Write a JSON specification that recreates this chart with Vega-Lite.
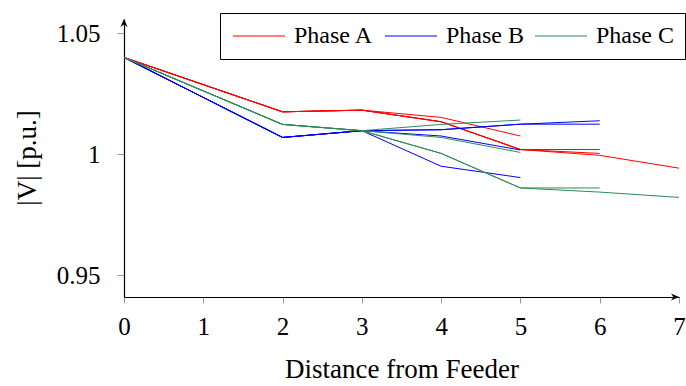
{
  "$schema": "https://vega.github.io/schema/vega-lite/v6.json",
  "width": 555,
  "height": 278,
  "autosize": {"type": "none"},
  "padding": {"left": 124, "top": 19, "right": 7, "bottom": 89},
  "background": "white",
  "config": {
    "view": {"stroke": null},
    "font": "Liberation Serif",
    "axis": {"labelFont": "Liberation Serif", "titleFont": "Liberation Serif", "labelColor": "black", "titleColor": "black", "titleFontWeight": "normal", "grid": false, "domainColor": "black", "domainWidth": 1.2, "tickColor": "#9a9a9a", "tickWidth": 1},
    "legend": {"labelFont": "Liberation Serif", "labelColor": "black"}
  },
  "data": {
    "values": [
      {"phase": "Phase A", "path": "A1", "dist": 0, "v": 1.04},
      {"phase": "Phase A", "path": "A1", "dist": 2, "v": 1.0175},
      {"phase": "Phase A", "path": "A1", "dist": 3, "v": 1.0182},
      {"phase": "Phase A", "path": "A1", "dist": 4, "v": 1.0152},
      {"phase": "Phase A", "path": "A1", "dist": 5, "v": 1.0075},
      {"phase": "Phase A", "path": "A2", "dist": 0, "v": 1.04},
      {"phase": "Phase A", "path": "A2", "dist": 2, "v": 1.0175},
      {"phase": "Phase A", "path": "A2", "dist": 3, "v": 1.0182},
      {"phase": "Phase A", "path": "A2", "dist": 4, "v": 1.0134},
      {"phase": "Phase A", "path": "A2", "dist": 5, "v": 1.0019},
      {"phase": "Phase A", "path": "A2", "dist": 6, "v": 1.0019},
      {"phase": "Phase A", "path": "A3", "dist": 0, "v": 1.04},
      {"phase": "Phase A", "path": "A3", "dist": 2, "v": 1.0175},
      {"phase": "Phase A", "path": "A3", "dist": 3, "v": 1.0182},
      {"phase": "Phase A", "path": "A3", "dist": 4, "v": 1.0134},
      {"phase": "Phase A", "path": "A3", "dist": 5, "v": 1.0019},
      {"phase": "Phase A", "path": "A3", "dist": 6, "v": 1.0003},
      {"phase": "Phase A", "path": "A4", "dist": 0, "v": 1.04},
      {"phase": "Phase A", "path": "A4", "dist": 2, "v": 1.0175},
      {"phase": "Phase A", "path": "A4", "dist": 3, "v": 1.0182},
      {"phase": "Phase A", "path": "A4", "dist": 4, "v": 1.0134},
      {"phase": "Phase A", "path": "A4", "dist": 5, "v": 1.0019},
      {"phase": "Phase A", "path": "A4", "dist": 6, "v": 0.9995},
      {"phase": "Phase A", "path": "A4", "dist": 7, "v": 0.9942},
      {"phase": "Phase B", "path": "B1", "dist": 0, "v": 1.04},
      {"phase": "Phase B", "path": "B1", "dist": 2, "v": 1.0069},
      {"phase": "Phase B", "path": "B1", "dist": 3, "v": 1.0097},
      {"phase": "Phase B", "path": "B1", "dist": 4, "v": 1.0101},
      {"phase": "Phase B", "path": "B1", "dist": 5, "v": 1.0124},
      {"phase": "Phase B", "path": "B1", "dist": 6, "v": 1.0138},
      {"phase": "Phase B", "path": "B2", "dist": 0, "v": 1.04},
      {"phase": "Phase B", "path": "B2", "dist": 2, "v": 1.0069},
      {"phase": "Phase B", "path": "B2", "dist": 3, "v": 1.0097},
      {"phase": "Phase B", "path": "B2", "dist": 4, "v": 1.0101},
      {"phase": "Phase B", "path": "B2", "dist": 5, "v": 1.0124},
      {"phase": "Phase B", "path": "B2", "dist": 6, "v": 1.0124},
      {"phase": "Phase B", "path": "B3", "dist": 0, "v": 1.04},
      {"phase": "Phase B", "path": "B3", "dist": 2, "v": 1.0069},
      {"phase": "Phase B", "path": "B3", "dist": 3, "v": 1.0097},
      {"phase": "Phase B", "path": "B3", "dist": 4, "v": 1.0075},
      {"phase": "Phase B", "path": "B3", "dist": 5, "v": 1.0017},
      {"phase": "Phase B", "path": "B4", "dist": 0, "v": 1.04},
      {"phase": "Phase B", "path": "B4", "dist": 2, "v": 1.0069},
      {"phase": "Phase B", "path": "B4", "dist": 3, "v": 1.0097},
      {"phase": "Phase B", "path": "B4", "dist": 4, "v": 0.995},
      {"phase": "Phase B", "path": "B4", "dist": 5, "v": 0.9903},
      {"phase": "Phase C", "path": "C1", "dist": 0, "v": 1.04},
      {"phase": "Phase C", "path": "C1", "dist": 2, "v": 1.0123},
      {"phase": "Phase C", "path": "C1", "dist": 3, "v": 1.0097},
      {"phase": "Phase C", "path": "C1", "dist": 4, "v": 1.0123},
      {"phase": "Phase C", "path": "C1", "dist": 5, "v": 1.0141},
      {"phase": "Phase C", "path": "C2", "dist": 0, "v": 1.04},
      {"phase": "Phase C", "path": "C2", "dist": 2, "v": 1.0123},
      {"phase": "Phase C", "path": "C2", "dist": 3, "v": 1.0097},
      {"phase": "Phase C", "path": "C2", "dist": 4, "v": 1.0069},
      {"phase": "Phase C", "path": "C2", "dist": 5, "v": 1.0007},
      {"phase": "Phase C", "path": "C3", "dist": 0, "v": 1.04},
      {"phase": "Phase C", "path": "C3", "dist": 2, "v": 1.0123},
      {"phase": "Phase C", "path": "C3", "dist": 3, "v": 1.0097},
      {"phase": "Phase C", "path": "C3", "dist": 4, "v": 1.0003},
      {"phase": "Phase C", "path": "C3", "dist": 5, "v": 0.986},
      {"phase": "Phase C", "path": "C3", "dist": 6, "v": 0.986},
      {"phase": "Phase C", "path": "C4", "dist": 0, "v": 1.04},
      {"phase": "Phase C", "path": "C4", "dist": 2, "v": 1.0123},
      {"phase": "Phase C", "path": "C4", "dist": 3, "v": 1.0097},
      {"phase": "Phase C", "path": "C4", "dist": 4, "v": 1.0003},
      {"phase": "Phase C", "path": "C4", "dist": 5, "v": 0.986},
      {"phase": "Phase C", "path": "C4", "dist": 6, "v": 0.9843},
      {"phase": "Phase C", "path": "C4", "dist": 7, "v": 0.9821}
    ]
  },
  "layer": [
    {
      "mark": {"type": "line", "strokeWidth": 1, "clip": true},
      "encoding": {
        "x": {
          "field": "dist", "type": "quantitative",
          "scale": {"domain": [0, 7], "nice": false, "zero": false},
          "axis": {
            "values": [0, 1, 2, 3, 4, 5, 6, 7], "format": "d",
            "title": "Distance from Feeder", "titleFontSize": 27,
            "titleY": 80, "titleBaseline": "alphabetic",
            "labelFontSize": 25, "labelBaseline": "alphabetic", "labelPadding": 31,
            "labelFlush": false, "tickSize": 6
          }
        },
        "y": {
          "field": "v", "type": "quantitative",
          "scale": {"domain": [0.9409, 1.0559], "nice": false, "zero": false},
          "axis": {
            "values": [0.95, 1, 1.05], "format": "~g",
            "title": "|V| [p.u.]", "titleFontSize": 27,
            "titleX": -96.5, "titleY": 138.5, "titleBaseline": "middle", "titleAngle": -90,
            "labelFontSize": 25, "labelPadding": 17, "labelFlush": false, "tickSize": 7
          }
        },
        "color": {
          "field": "phase", "type": "nominal",
          "scale": {"domain": ["Phase A", "Phase B", "Phase C"], "range": ["#ff0000", "#0000ff", "#2e8b57"]},
          "legend": {
            "title": null, "orient": "none", "legendX": 96, "legendY": -6,
            "direction": "horizontal",
            "symbolType": "M-1,0H4.2", "symbolSize": 400, "symbolStrokeWidth": 1.2,
            "labelFontSize": 24, "labelOffset": 39, "columnPadding": 8,
            "padding": 11, "strokeColor": "black", "fillColor": "white", "cornerRadius": 0
          }
        },
        "detail": {"field": "path"},
        "order": {"field": "dist"}
      }
    },
    {
      "data": {"values": [{"end": "x"}]},
      "mark": {"type": "point", "shape": "M0,0L-1,-0.45L-0.7,0L-1,0.45Z", "filled": true, "size": 256, "color": "black", "opacity": 1, "clip": false},
      "encoding": {"x": {"datum": 7}, "y": {"datum": 0.9409}}
    },
    {
      "data": {"values": [{"end": "y"}]},
      "mark": {"type": "point", "shape": "M0,0L-0.45,1L0,0.7L0.45,1Z", "filled": true, "size": 256, "color": "black", "opacity": 1, "clip": false},
      "encoding": {"x": {"datum": 0}, "y": {"datum": 1.0559}}
    }
  ]
}
